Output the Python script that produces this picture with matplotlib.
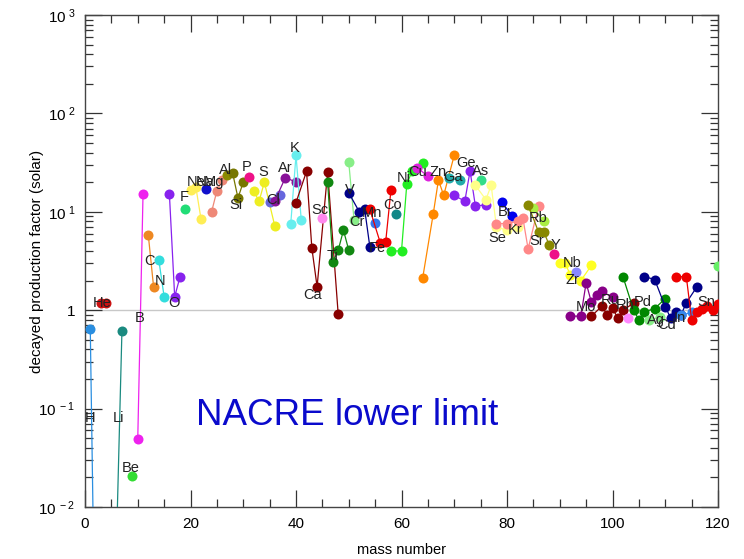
import numpy as np
import matplotlib
matplotlib.use('Agg')
import matplotlib.pyplot as plt
from matplotlib.ticker import FixedLocator, MultipleLocator, NullFormatter

plt.rcParams['font.family'] = ['Liberation Sans', 'DejaVu Sans']
plt.rcParams['mathtext.fontset'] = 'custom'
plt.rcParams['mathtext.rm'] = 'Liberation Sans'
plt.rcParams['mathtext.it'] = 'Liberation Sans'

########################################
# data

symbols = ['H', 'He', 'Li', 'Be', 'B', 'C', 'N', 'O', 'F', 'Ne', 'Na', 'Mg', 'Al',
           'Si', 'P', 'S', 'Cl', 'Ar', 'K', 'Ca', 'Sc', 'Ti', 'V', 'Cr', 'Mn', 'Fe',
           'Co', 'Ni', 'Cu', 'Zn', 'Ga', 'Ge', 'As', 'Se', 'Br', 'Kr', 'Rb', 'Sr',
           'Y', 'Zr', 'Nb', 'Mo', 'Ru', 'Rh', 'Pd', 'Ag', 'Cd', 'In', 'Sn', 'Te']

masses = [[1, 2], [3, 4], [6, 7], [9], [10, 11], [12, 13], [14, 15], [16, 17, 18],
          [19], [20, 21, 22], [23], [24, 25, 26], [27], [28, 29, 30], [31],
          [32, 33, 34, 36], [35, 37], [36, 38, 40], [39, 40, 41],
          [40, 42, 43, 44, 46, 48], [45], [46, 47, 48, 49, 50], [50, 51],
          [50, 52, 53, 54], [55], [54, 56, 57, 58], [59], [58, 60, 61, 62, 64],
          [63, 65], [64, 66, 67, 68, 70], [69, 71], [70, 72, 73, 74, 76], [75],
          [74, 76, 77, 78, 80, 82], [79, 81], [78, 80, 82, 83, 84, 86], [85, 87],
          [84, 86, 87, 88], [89], [90, 91, 92, 94, 96], [93],
          [92, 94, 95, 96, 97, 98, 100], [96, 98, 99, 100, 101, 102, 104], [103],
          [102, 104, 105, 106, 108, 110], [107, 109],
          [106, 108, 110, 111, 112, 113, 114, 116], [113, 115],
          [112, 114, 115, 116, 117, 118, 119, 120], [120]]

factors = [[0.64, 1.6e-4], [1.18, 1.18], [0.005, 0.61], [0.0206], [0.049, 15.1],
           [5.8, 1.73], [3.22, 1.37], [15.1, 1.37, 2.17], [10.7], [16.6, 18.0, 8.4],
           [16.9], [10.0, 16.3, 21.0], [23.5], [24.6, 13.8, 20.0], [22.5],
           [16.2, 12.8, 20.0, 7.1], [12.6, 14.7], [13.0, 22.3, 20.0], [7.5, 37.6, 8.2],
           [12.4, 25.8, 4.3, 1.73, 25.5, 0.91], [8.7], [19.9, 3.1, 4.07, 6.5, 4.07],
           [32.0, 8.3], [15.6, 10.0, 10.8, 4.4], [7.7], [10.6, 4.8, 4.95, 16.6], [9.6],
           [4.0, 4.0, 19.0, 26.0, 31.0], [28.0, 23.0], [2.1, 9.4, 21.0, 14.7, 37.6],
           [22.0, 21.0], [14.7, 12.8, 26.0, 11.5, 11.7], [21.2],
           [18.6, 13.3, 18.6, 7.0, 6.5, 7.0], [12.6, 9.0], [7.6, 7.6, 8.0, 8.7, 4.2, 11.5],
           [11.0, 8.0], [11.8, 6.2, 6.2, 4.6], [3.7], [3.05, 3.0, 2.3, 2.0, 2.85], [2.45],
           [0.87, 0.87, 1.9, 1.2, 1.42, 1.56, 1.35], [0.87, 1.1, 0.89, 1.05, 0.83, 1.0, 1.18],
           [0.84], [2.18, 1.0, 0.8, 0.96, 1.04, 1.31], [0.8, 0.85],
           [2.2, 2.05, 1.08, 0.84, 0.96, 0.9, 1.19, 1.73], [0.89, 0.95],
           [2.2, 2.18, 0.8, 0.96, 1.04, 1.1, 1.0, 1.15], [2.8]]

y_ticks = [1e-2, 1e-1, 1, 1e1, 1e2, 1e3]
y_ticklabels = ['10$^{\\ -2}$', '10$^{\\ -1}$', '1', '10$^{\\ 1}$', '10$^{\\ 2}$', '10$^{\\ 3}$']

########################################
# styling

colors = ['#2a8ee0', '#cc1111', '#1a8a80', '#33dd33', '#ee22ee', '#ee8822', '#33dddd',
          '#8822ee', '#22dd77', '#ffee55', '#1111cc', '#ee8877', '#8a8a00', '#777700',
          '#ee1188', '#eeee22', '#6666dd', '#881199', '#66eeee', '#880000', '#ff88ee',
          '#118811', '#88ee88', '#000088', '#3377ee', '#ee0000', '#118888', '#22ee22',
          '#dd22dd', '#ff8800', '#22aaaa', '#8822ee', '#33dd88', '#ffff88', '#0000ee',
          '#ff8888', '#aaee44', '#888800', '#ee1188', '#ffff22', '#8888ff', '#880088',
          '#880000', '#ff88ff', '#008800', '#88ee88', '#000088', '#3388ee', '#ee0000',
          '#66ee66']

# where each element name sits (mass number, factor); None = no name
label_at = [(1.0, 0.08), (3.2, 1.18), (6.4, 0.08), (8.7, 0.025), (10.4, 0.83),
            (12.3, 3.15), (14.2, 1.97), (16.9, 1.18), (18.8, 14.1), (21.0, 20.0),
            (22.8, 20.0), (24.4, 20.0), (26.7, 26.5), (28.6, 11.7), (30.7, 28.4),
            (33.7, 25.3), (35.6, 13.1), (37.9, 27.7), (39.8, 44.3), (43.2, 1.42),
            (44.5, 10.4), (47.0, 3.54), (50.2, 16.6), (51.6, 7.84), (54.4, 9.68),
            (55.4, 4.27), (58.4, 11.7), (60.5, 21.9), (63.1, 25.3), (66.9, 25.3),
            (69.8, 22.5), (72.2, 31.2), (74.9, 25.9), (78.1, 5.39), (79.6, 9.9),
            (81.5, 6.5), (85.9, 8.6), (85.7, 5.0), (89.1, 4.58), (92.5, 2.02),
            (92.3, 3.0), (95.0, 1.07), (99.5, 1.26), (102.4, 1.12), (105.8, 1.2),
            (108.2, 0.79), (110.3, 0.70), (112.8, 0.83), (117.7, 1.2), None]

########################################

fig = plt.figure(figsize=(7.44, 5.59), dpi=100)
ax = fig.add_axes([85 / 744, 52 / 559, 633 / 744, 492 / 559])

ax.axhline(1.0, color='#c8c8c8', lw=1.0, zorder=1)

for sym, a, f, c in zip(symbols, masses, factors, colors):
    ax.plot(a, f, '-', color=c, lw=0.9, marker='o', ms=7.2, mec='none', zorder=3)

for sym, pos in zip(symbols, label_at):
    if pos is None:
        continue
    ax.text(pos[0], pos[1], sym, fontsize=10.5, color='#222222', ha='center',
            va='center', zorder=5)

ax.text(0.176, 0.185, 'NACRE lower limit', transform=ax.transAxes, fontsize=26.5,
        color='#0a0acc', ha='left', va='center', zorder=6)

ax.set_yscale('log')
ax.set_xlim(0, 120)
ax.set_ylim(1e-2, 1e3)

ax.yaxis.set_major_locator(FixedLocator(y_ticks))
ax.set_yticklabels(y_ticklabels)
ax.yaxis.set_minor_locator(matplotlib.ticker.LogLocator(base=10, subs=np.arange(2, 10)))
ax.yaxis.set_minor_formatter(NullFormatter())
ax.xaxis.set_major_locator(MultipleLocator(20))
ax.xaxis.set_minor_locator(MultipleLocator(5))

ax.tick_params(which='both', direction='in', top=True, right=True, color='#333333',
               labelsize=11, width=0.9)
ax.tick_params(which='major', length=12, pad=7)
ax.tick_params(which='minor', length=6)
for s in ax.spines.values():
    s.set_color('#444444')
    s.set_linewidth(1.0)

ax.set_xlabel('mass number', fontsize=10.5, labelpad=9)
ax.set_ylabel('decayed production factor (solar)', fontsize=11, labelpad=-4)

fig.savefig('out.png', dpi=100)
